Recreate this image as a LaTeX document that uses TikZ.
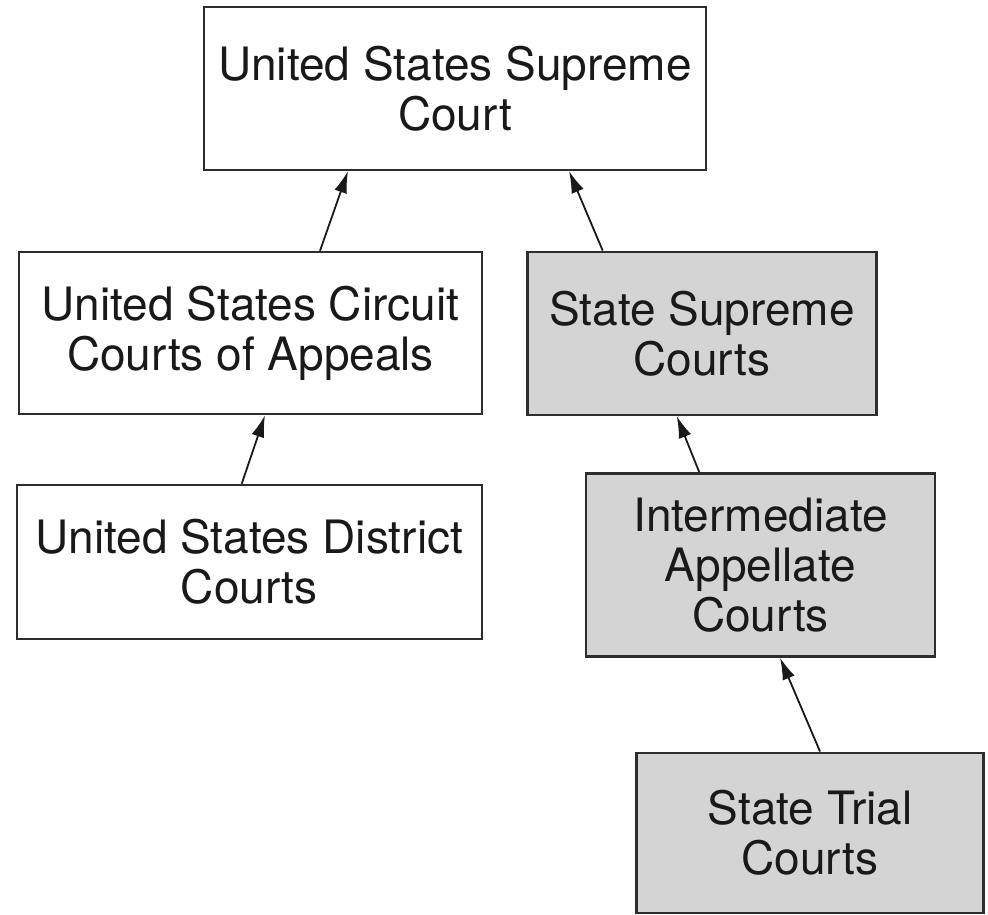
\documentclass[tikz,border=0pt]{standalone}
\usepackage{fontspec}
\setmainfont{TeX Gyre Heros}
\usetikzlibrary{arrows.meta}
\definecolor{boxgray}{RGB}{212,212,212}
\definecolor{edgegray}{RGB}{45,45,45}
\tikzset{
  court/.style={draw=edgegray, line width=2.4pt, rectangle, align=center, inner sep=0pt,
    font=\fontsize{46}{50}\selectfont, text=black!90},
  fedbox/.style={court, fill=white},
  statebox/.style={court, fill=boxgray},
  appeal/.style={-{Latex[length=22pt,width=13pt]}, line width=1.8pt, black!90}
}
\begin{document}
\begin{tikzpicture}[x=1pt,y=-1pt]
\useasboundingbox (0,0) rectangle (988,915);
\node[fedbox, minimum width=502pt, minimum height=163pt] (usc) at (455,88.3) {United States Supreme\\Court};
\node[fedbox, minimum width=463pt, minimum height=162pt] (circ) at (250.5,333) {United States Circuit\\Courts of Appeals};
\node[statebox, minimum width=349pt, minimum height=163pt] (ssc) at (702,333.3) {State Supreme\\Courts};
\node[fedbox, minimum width=465pt, minimum height=154pt] (dist) at (249.3,562) {United States District\\Courts};
\node[statebox, minimum width=349pt, minimum height=183pt] (inter) at (760.5,565) {Intermediate\\Appellate\\Courts};
\node[statebox, minimum width=347pt, minimum height=160pt] (trial) at (810,832.7) {State Trial\\Courts};
\draw[appeal] ([xshift=69.5pt]circ.north) -- ([xshift=-107pt]usc.south);
\draw[appeal] ([xshift=-99.3pt]ssc.north) -- ([xshift=114pt]usc.south);
\draw[appeal] ([xshift=-7.6pt]dist.north) -- ([xshift=14.5pt]circ.south);
\draw[appeal] ([xshift=-61.2pt]inter.north) -- ([xshift=-25.3pt]ssc.south);
\draw[appeal] ([xshift=10pt]trial.north) -- ([xshift=19.5pt]inter.south);
\end{tikzpicture}
\end{document}
